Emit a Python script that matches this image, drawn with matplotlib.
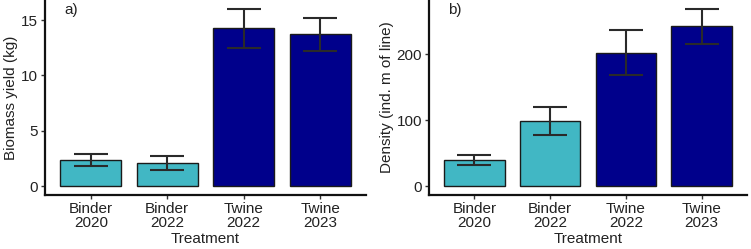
import matplotlib
matplotlib.use("Agg")
import matplotlib.pyplot as plt
import numpy as np

plt.rcParams['font.family'] = ['Liberation Sans', 'DejaVu Sans']

categories = ["Binder\n2020", "Binder\n2022", "Twine\n2022", "Twine\n2023"]
bar_colors = ["#41B7C4", "#41B7C4", "#00008B", "#00008B"]

biomass = [2.34, 2.13, 14.32, 13.74]
biomass_lo = [1.85, 1.49, 12.52, 12.22]
biomass_hi = [2.86, 2.74, 16.02, 15.20]

density = [39.6, 98.4, 202.0, 242.7]
density_lo = [32.3, 77.6, 168.8, 215.6]
density_hi = [47.4, 119.3, 236.5, 268.8]

W, H = 751, 249
fig = plt.figure(figsize=(W/100, H/100), dpi=100)

def panel(rect, vals, lo, hi, ylabel, tag, yticks):
    ax = fig.add_axes(rect)
    x = np.arange(len(categories))
    ax.bar(x, vals, width=0.8, color=bar_colors, edgecolor="#1a1a1a", linewidth=1.0, zorder=2)
    vals = np.array(vals); lo = np.array(lo); hi = np.array(hi)
    ax.errorbar(x, vals, yerr=[vals - lo, hi - vals], fmt="none", ecolor="#2a2a2a",
                elinewidth=1.5, capsize=12.5, capthick=1.5, zorder=3)
    top = hi.max()
    pad = 0.05 * top
    ax.set_ylim(-pad, top + pad)
    ax.set_xlim(-0.6, 3.6)
    ax.set_xticks(x)
    ax.set_xticklabels(categories, fontsize=11, color="#222222", linespacing=1.05)
    ax.set_yticks(yticks)
    ax.set_yticklabels([str(t) for t in yticks], fontsize=11, color="#222222")
    ax.set_xlabel("Treatment", fontsize=11, color="#222222", labelpad=1)
    ax.set_ylabel(ylabel, fontsize=11, color="#222222", labelpad=2)
    for s in ["top", "right"]:
        ax.spines[s].set_visible(False)
    for s in ["left", "bottom"]:
        ax.spines[s].set_linewidth(1.6)
        ax.spines[s].set_color("#111111")
    ax.tick_params(axis="both", length=3, width=1.0, color="#333333", pad=2)
    ax.text(0.06, 0.985, tag, transform=ax.transAxes, fontsize=11, va="top", ha="left", color="#222222")
    return ax

panel([45/W, 54/H, 321/W, 195/H], biomass, biomass_lo, biomass_hi,
      "Biomass yield (kg)", "a)", [0, 5, 10, 15])
panel([429/W, 54/H, 318/W, 195/H], density, density_lo, density_hi,
      "Density (ind. m of line)", "b)", [0, 100, 200])

fig.savefig("out.png", dpi=100)
